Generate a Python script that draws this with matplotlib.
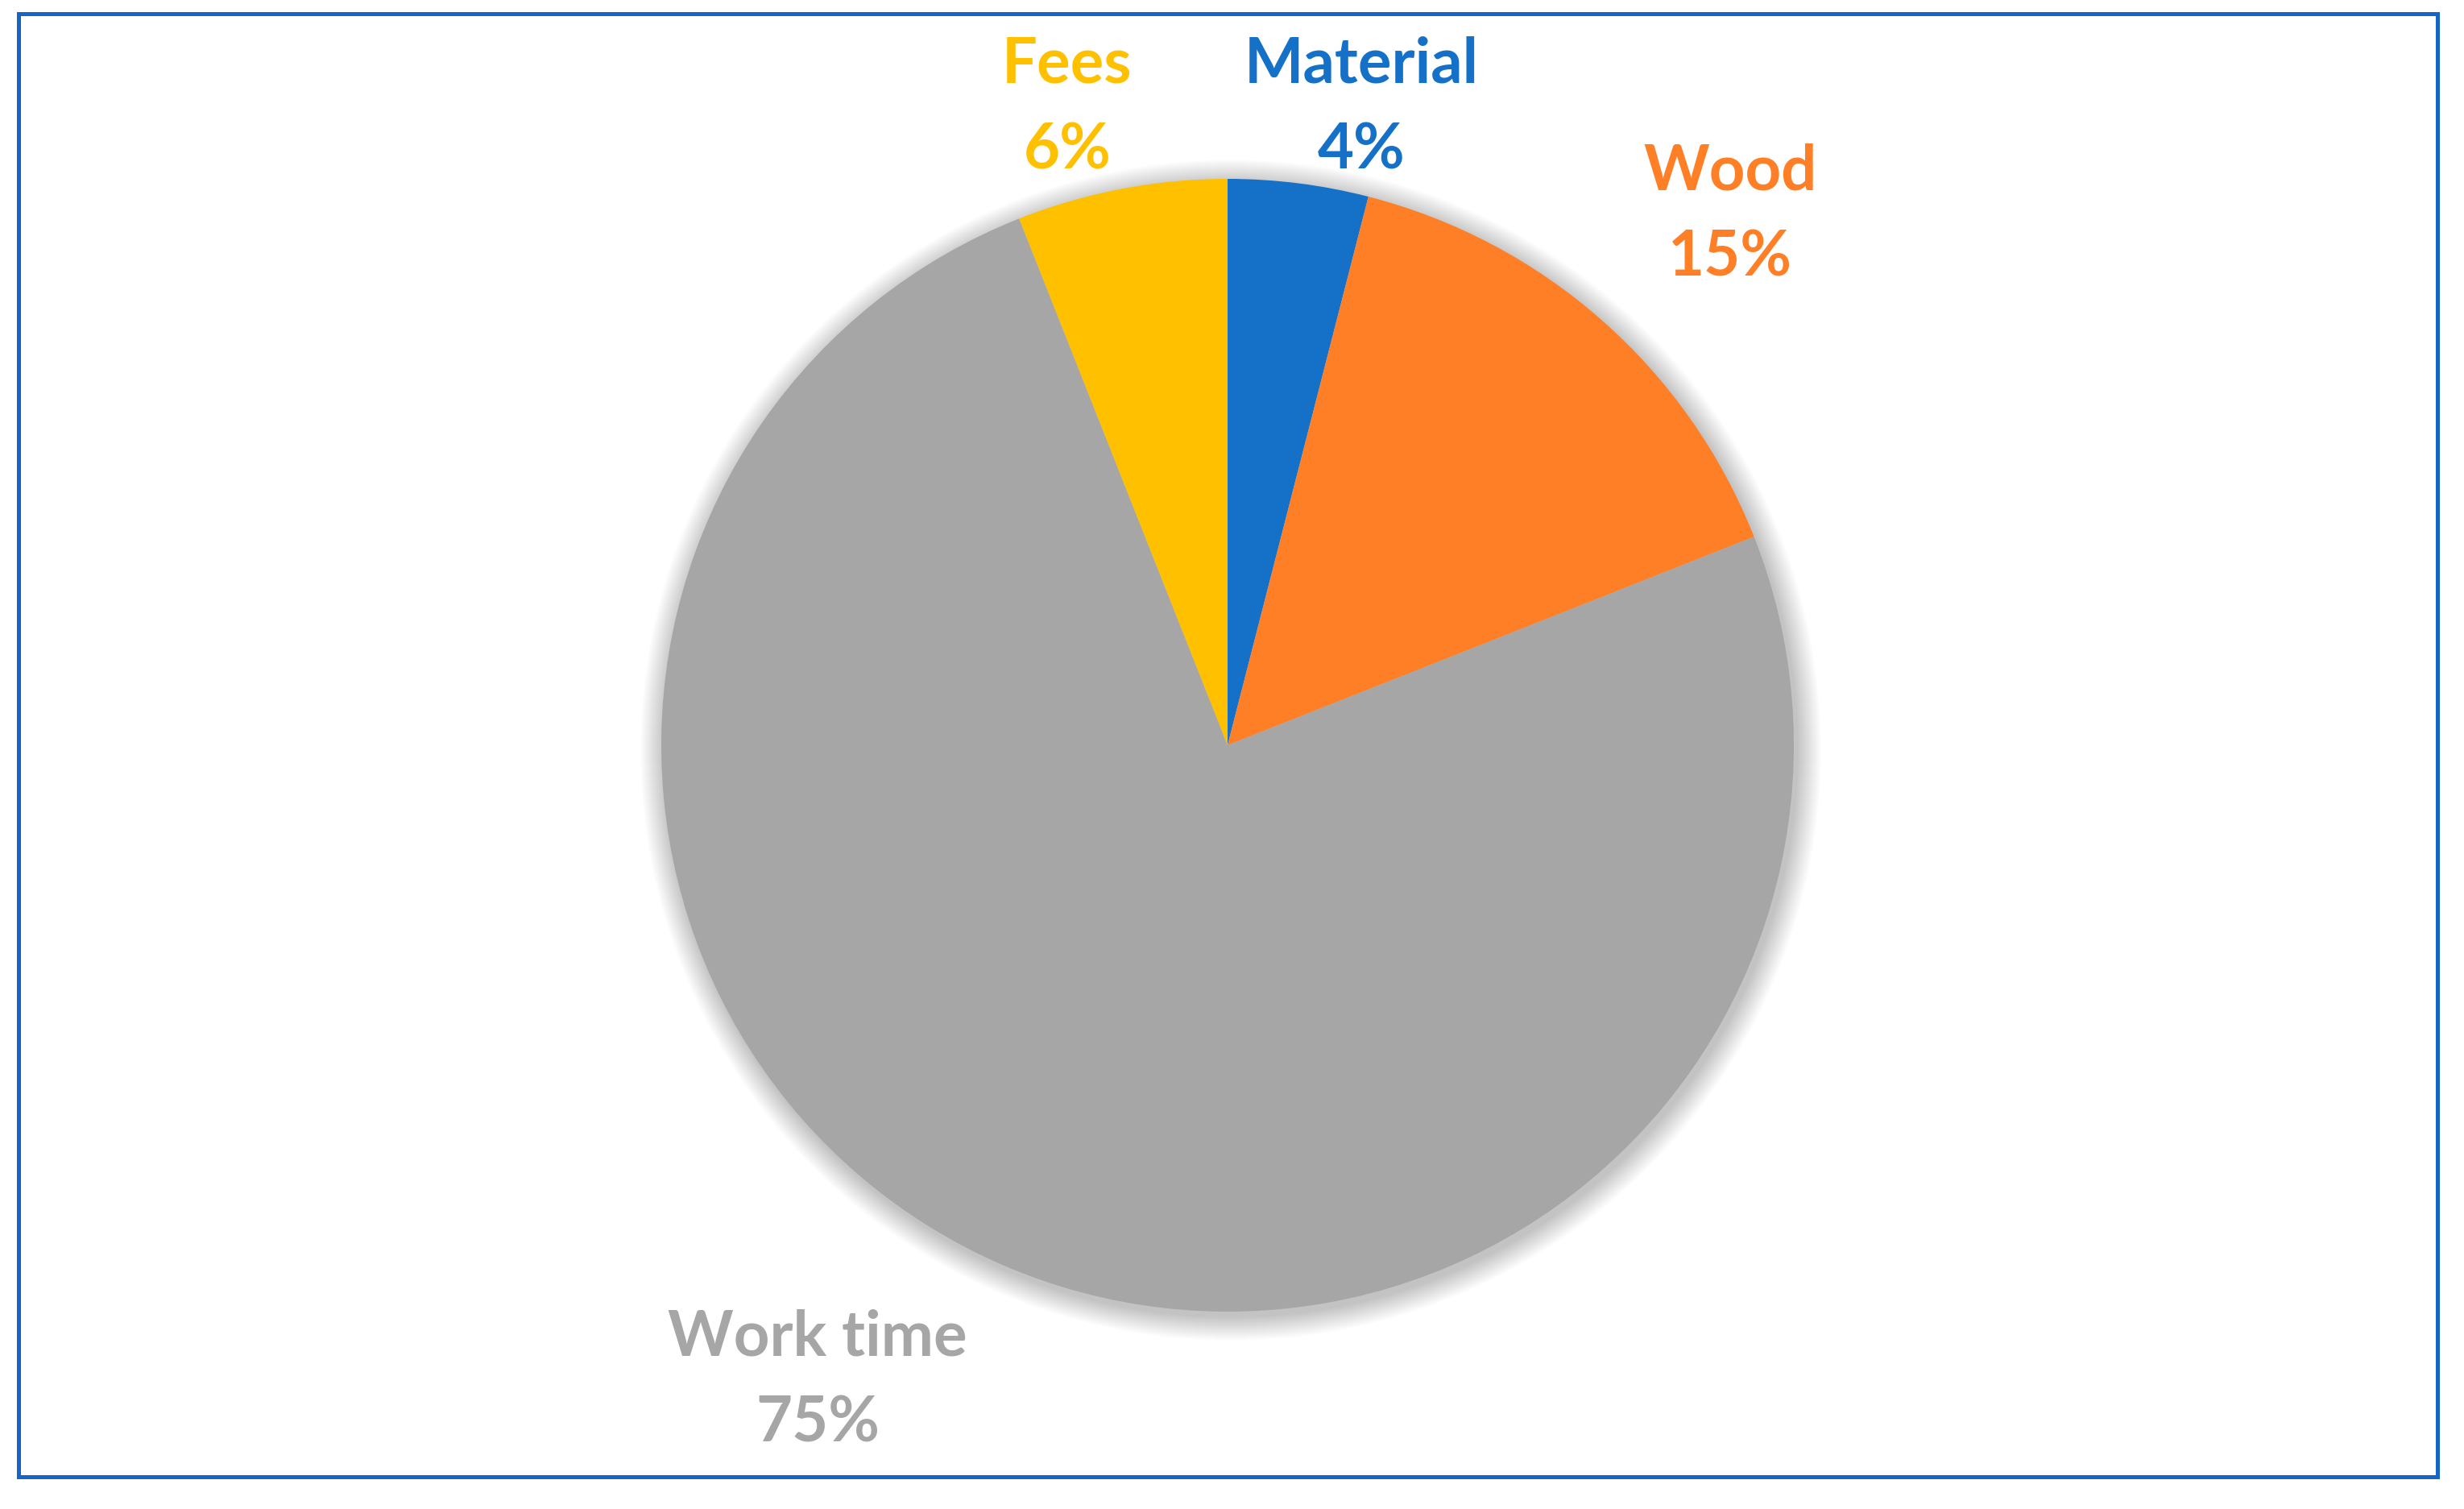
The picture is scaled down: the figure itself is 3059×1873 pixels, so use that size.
import matplotlib
matplotlib.use("Agg")
import matplotlib.pyplot as plt
from matplotlib.patches import Circle, Rectangle

# data
categories = ['Material', 'Wood', 'Work time', 'Fees']
shares = [4, 15, 75, 6]
colors = ['#1570C8', '#FF7F27', '#A6A6A6', '#FFC000']

W, H = 3059, 1873
fig = plt.figure(figsize=(W / 100, H / 100), dpi=100)
ax = fig.add_axes([0, 0, 1, 1])

cx, cy, R = 1524, 948, 703

# soft shadow under the pie
for k in range(30):
    ax.add_patch(Circle((cx + 4, cy - 6), R + 30 - k, color='black',
                        alpha=0.006, lw=0, zorder=1))

wedges, _ = ax.pie(shares, colors=colors, startangle=90, counterclock=False,
                   center=(cx, cy), radius=R, frame=True,
                   wedgeprops=dict(linewidth=0, zorder=2))
ax.set_xlim(0, W)
ax.set_ylim(0, H)
ax.axis('off')

# label positions (pixel space)
label_pos = [(1690, 1739), (2148, 1606), (1015, 159), (1325, 1739)]
for name, val, col, (x, y) in zip(categories, shares, colors, label_pos):
    ax.text(x, y, f'{name}\n{val}%', color=col, ha='center', va='center',
            fontsize=56, fontweight='bold', family=['Lato', 'DejaVu Sans'],
            linespacing=1.6, zorder=5)

# blue frame
ax.add_patch(Rectangle((23, 40), 3003, 1816, fill=False, edgecolor='#1565C8',
                       linewidth=3.6, zorder=6))

fig.savefig('out.png', dpi=100)
